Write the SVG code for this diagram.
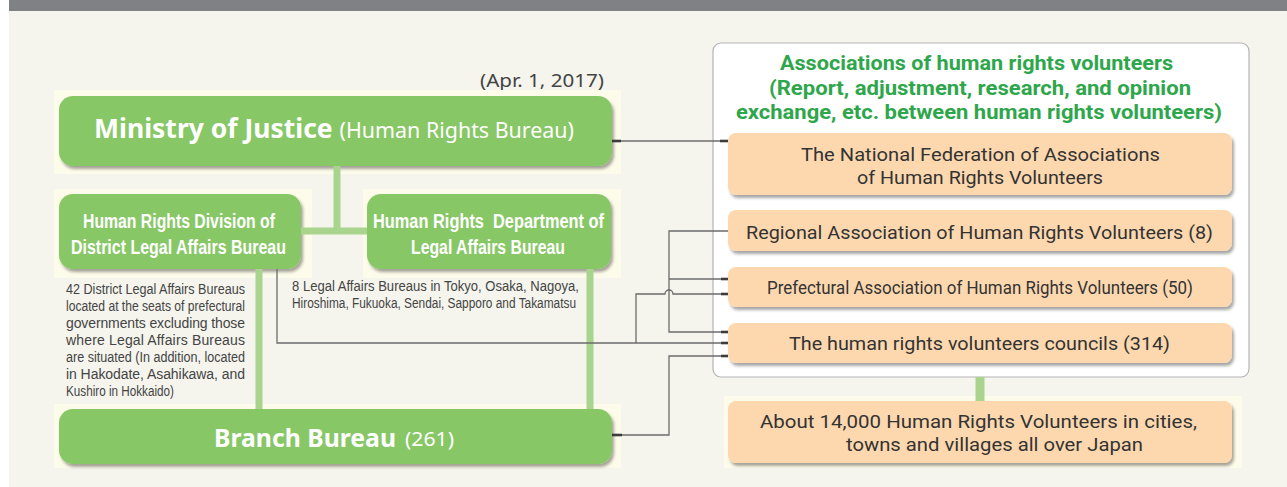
<svg xmlns="http://www.w3.org/2000/svg" width="1287" height="487" viewBox="0 0 1287 487">
<defs>
<style>
.halo{fill:#fdfbea}
.gbox{fill:#88c766;filter:url(#sh)}
.obox{fill:#fdd8af;filter:url(#sh)}
.gl{stroke:#a8d48e;stroke-width:7;fill:none}
.ln{stroke:#6b6b6b;stroke-width:1.3;fill:none}
.stub{stroke:#3c3c3c;stroke-width:2.6}
.wt{fill:#ffffff;font-family:"Noto Sans","Open Sans",sans-serif}
.wc{fill:#ffffff;font-family:"Liberation Sans",Arial,sans-serif;font-weight:bold;font-size:20px}
.ot{fill:#333333;font-family:Roboto,"Noto Sans",sans-serif;font-size:19px}
.nt{fill:#444444;font-family:"Liberation Sans",Arial,sans-serif;font-size:14px}
.tt{fill:#2ea64b;font-family:Roboto,"Noto Sans",sans-serif;font-size:20px;font-weight:bold}
</style>
<filter id="sh" x="-10%" y="-20%" width="120%" height="150%">
<feDropShadow dx="2" dy="3" stdDeviation="1.6" flood-color="#000000" flood-opacity="0.35"/>
</filter>
</defs>
<rect x="0" y="0" width="1287" height="487" fill="#ffffff"/>
<rect x="9" y="0" width="1278" height="11" fill="#808184"/>
<rect x="9" y="11" width="1278" height="476" fill="#f5f5ee"/>

<text x="480" y="87" font-family="Noto Sans, Open Sans, sans-serif" font-size="18" fill="#444" textLength="124" lengthAdjust="spacingAndGlyphs">(Apr. 1, 2017)</text>

<g id="ministry">
<rect class="halo" x="54" y="90" width="567" height="84"/>
<rect class="gbox" x="59" y="96" width="553" height="70" rx="14"/>
<text class="wt" x="94" y="138" font-size="26" font-weight="bold" textLength="480" lengthAdjust="spacingAndGlyphs">Ministry of Justice <tspan font-size="21" font-weight="normal">(Human Rights Bureau)</tspan></text>
</g>

<g id="division">
<rect class="halo" x="54" y="189" width="258" height="89"/>
<rect class="gbox" x="59" y="194" width="242" height="75" rx="14"/>
<text class="wc"><tspan x="83" y="228" textLength="192" lengthAdjust="spacingAndGlyphs">Human Rights Division of</tspan><tspan x="71" y="254" textLength="215" lengthAdjust="spacingAndGlyphs">District Legal Affairs Bureau</tspan></text>
</g>

<g id="department">
<rect class="halo" x="363" y="189" width="258" height="89"/>
<rect class="gbox" x="367" y="194" width="244" height="75" rx="14"/>
<text class="wc" xml:space="preserve"><tspan x="373" y="228" textLength="231" lengthAdjust="spacingAndGlyphs">Human Rights  Department of</tspan><tspan x="411" y="254" textLength="154" lengthAdjust="spacingAndGlyphs">Legal Affairs Bureau</tspan></text>
</g>

<g id="note-district">
<text class="nt"><tspan x="66" y="294" textLength="179" lengthAdjust="spacingAndGlyphs">42 District Legal Affairs Bureaus</tspan><tspan x="66" y="311" textLength="179" lengthAdjust="spacingAndGlyphs">located at the seats of prefectural</tspan><tspan x="66" y="328" textLength="179" lengthAdjust="spacing">governments excluding those</tspan><tspan x="66" y="345" textLength="179" lengthAdjust="spacing">where Legal Affairs Bureaus</tspan><tspan x="66" y="362" textLength="179" lengthAdjust="spacingAndGlyphs">are situated (In addition, located</tspan><tspan x="66" y="379" textLength="179" lengthAdjust="spacing">in Hakodate, Asahikawa, and</tspan><tspan x="66" y="396" textLength="108" lengthAdjust="spacingAndGlyphs">Kushiro in Hokkaido)</tspan></text>
</g>

<g id="note-legal">
<text class="nt"><tspan x="292" y="291" textLength="287" lengthAdjust="spacingAndGlyphs">8 Legal Affairs Bureaus in Tokyo, Osaka, Nagoya,</tspan><tspan x="292" y="308" textLength="284" lengthAdjust="spacingAndGlyphs">Hiroshima, Fukuoka, Sendai, Sapporo and Takamatsu</tspan></text>
</g>

<g id="branch">
<rect class="halo" x="54" y="404" width="567" height="64"/>
<rect class="gbox" x="59" y="409" width="553" height="55" rx="14"/>
<text class="wt" x="214" y="447" font-size="25.5" font-weight="bold" textLength="182" lengthAdjust="spacingAndGlyphs">Branch Bureau</text>
<text class="wt" x="405" y="446" font-size="20" textLength="49" lengthAdjust="spacingAndGlyphs">(261)</text>
</g>

<g id="associations">
<rect x="713" y="43" width="536" height="334" rx="8" fill="#ffffff" stroke="#b3b3b3" stroke-width="1.2"/>
<text class="tt"><tspan x="780" y="70" textLength="393" lengthAdjust="spacingAndGlyphs">Associations of human rights volunteers</tspan><tspan x="769" y="95" textLength="422" lengthAdjust="spacingAndGlyphs">(Report, adjustment, research, and opinion</tspan><tspan x="736" y="119" textLength="486" lengthAdjust="spacingAndGlyphs">exchange, etc. between human rights volunteers)</tspan></text>
</g>

<g id="national">
<rect class="obox" x="728" y="133" width="504" height="62" rx="8"/>
<text class="ot"><tspan x="801" y="161" textLength="359" lengthAdjust="spacingAndGlyphs">The National Federation of Associations</tspan><tspan x="857" y="184" textLength="246" lengthAdjust="spacingAndGlyphs">of Human Rights Volunteers</tspan></text>
</g>

<g id="regional">
<rect class="obox" x="728" y="210" width="504" height="41" rx="8"/>
<text class="ot" x="746" y="239" textLength="467" lengthAdjust="spacingAndGlyphs">Regional Association of Human Rights Volunteers (8)</text>
</g>

<g id="prefectural">
<rect class="obox" x="728" y="267" width="504" height="40" rx="8"/>
<text class="ot" x="767" y="294" font-family="Liberation Sans, Arial, sans-serif" font-size="18" textLength="426" lengthAdjust="spacingAndGlyphs">Prefectural Association of Human Rights Volunteers (50)</text>
</g>

<g id="councils">
<rect class="obox" x="728" y="323" width="504" height="40" rx="8"/>
<text class="ot" x="789" y="350" textLength="381" lengthAdjust="spacingAndGlyphs">The human rights volunteers councils (314)</text>
</g>

<g id="volunteers">
<rect class="halo" x="724" y="396" width="518" height="72"/>
<rect class="obox" x="728" y="401" width="504" height="62" rx="8"/>
<text class="ot"><tspan x="760" y="428" textLength="437" lengthAdjust="spacingAndGlyphs">About 14,000 Human Rights Volunteers in cities,</tspan><tspan x="846" y="451" textLength="297" lengthAdjust="spacingAndGlyphs">towns and villages all over Japan</tspan></text>
</g>

<g id="connectors">
<path class="gl" d="M337,166 V231"/>
<path class="gl" d="M301,231 H367"/>
<path class="gl" d="M259,269 V409"/>
<path class="gl" d="M590,269 V409"/>
<path class="gl" d="M980,377 V401" style="stroke-width:9"/>
<path class="ln" d="M612,141 H728"/>
<path class="ln" d="M277,269 V343 H728"/>
<path class="ln" d="M636,343 V294 H665 A4,4 0 0 1 673,294 H728"/>
<path class="ln" d="M728,231 H669 V332 H728"/>
<path class="ln" d="M669,279 H728"/>
<path class="ln" d="M612,435 H669 V356 H728"/>
<line class="stub" x1="612" y1="141" x2="621" y2="141"/>
<line class="stub" x1="720" y1="141" x2="728" y2="141"/>
<line class="stub" x1="721" y1="279" x2="728" y2="279"/>
<line class="stub" x1="721" y1="294" x2="728" y2="294"/>
<line class="stub" x1="721" y1="332" x2="728" y2="332"/>
<line class="stub" x1="721" y1="343" x2="728" y2="343"/>
<line class="stub" x1="721" y1="356" x2="728" y2="356"/>
<line class="stub" x1="612" y1="435" x2="622" y2="435"/>
</g>
</svg>
